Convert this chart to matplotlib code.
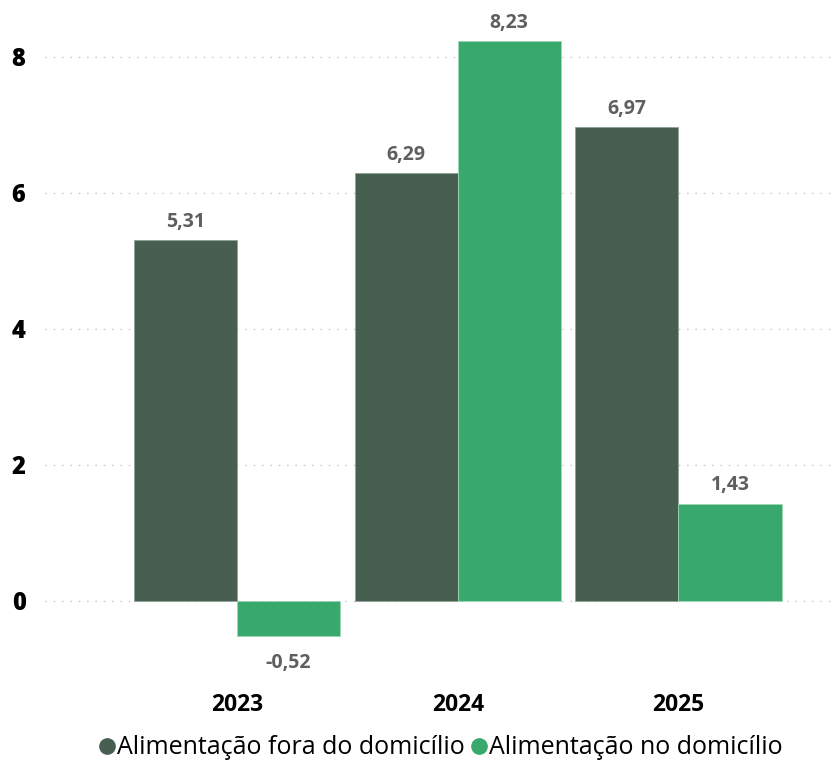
import numpy as np
import matplotlib
matplotlib.use("Agg")
from matplotlib import pyplot as plt
from matplotlib.lines import Line2D

years = ["2023", "2024", "2025"]
fora_domicilio = [5.31, 6.29, 6.97]
no_domicilio = [-0.52, 8.23, 1.43]
series_names = ["Alimentação fora do domicílio", "Alimentação no domicílio"]
yticks = [0, 2, 4, 6, 8]

dark = "#465F50"
light = "#38A86D"
label_grey = "#5F5F5F"

plt.rcParams["font.family"] = ["Open Sans", "DejaVu Sans"]

fig = plt.figure(figsize=(8.33, 7.64), dpi=100)
# axes placed so that the 0 line lands where it does in the reference
ax = fig.add_axes([45 / 833, 1 - 669 / 764, 1 - 45 / 833, (669 - 16.2) / 764])

x = np.arange(len(years))
w = 0.467
b1 = ax.bar(x - w / 2, fora_domicilio, w, color=dark, edgecolor="#8FA396", linewidth=0.6, zorder=3)
b2 = ax.bar(x + w / 2, no_domicilio, w, color=light, edgecolor="#9ED6B6", linewidth=0.6, zorder=3)

def fmt(v):
    return f"{v:.2f}".replace(".", ",")

for bars, vals in ((b1, fora_domicilio), (b2, no_domicilio)):
    for bar, v in zip(bars, vals):
        cx = bar.get_x() + bar.get_width() / 2
        if v >= 0:
            ax.annotate(fmt(v), (cx, v), xytext=(0, 6), textcoords="offset points",
                        ha="center", va="bottom", fontsize=14, fontweight="bold", color=label_grey)
        else:
            ax.annotate(fmt(v), (cx, v), xytext=(0, -12), textcoords="offset points",
                        ha="center", va="top", fontsize=14, fontweight="bold", color=label_grey)

ax.set_xlim(-0.87, 2.70)
ax.set_ylim(-1.0, 8.6)
ax.set_yticks(yticks)
ax.set_yticklabels([str(t) for t in yticks], fontsize=17, fontweight="heavy", color="black", ha="center")
ax.tick_params(axis="y", length=0, pad=19)
ax.set_xticks(x)
ax.set_xticklabels(years, fontsize=16.5, fontweight="bold", color="black")
ax.tick_params(axis="x", length=0, pad=17)

ax.grid(axis="y", linestyle=(0, (1, 5)), color="#C8C8C8", linewidth=1, zorder=0)
for s in ax.spines.values():
    s.set_visible(False)

handles = [Line2D([], [], marker="o", linestyle="", markersize=11, color=c) for c in (dark, light)]
fig.legend(handles, series_names, loc="center", bbox_to_anchor=(0.528, 1 - 748 / 764),
           ncol=2, frameon=False, fontsize=18, handletextpad=0.0, columnspacing=0.2,
           handlelength=0.8)

fig.savefig("out.png", dpi=100)
